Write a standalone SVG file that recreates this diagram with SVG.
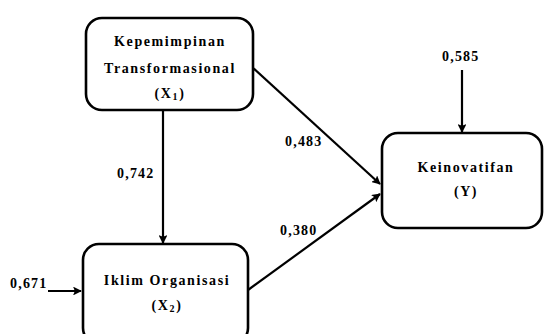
<svg xmlns="http://www.w3.org/2000/svg" width="545" height="334" viewBox="0 0 545 334">
<style>
.box{fill:#fff;stroke:#000;stroke-width:2.6}
.t{font-family:"Liberation Serif","Times New Roman",serif;font-weight:bold;font-size:14px;fill:#000;text-anchor:middle;letter-spacing:1.6px}
.l{font-family:"Liberation Serif","Times New Roman",serif;font-weight:bold;font-size:14px;fill:#000;letter-spacing:1.2px}
.c{stroke:#000;stroke-width:2.2;fill:none;marker-end:url(#ah)}
</style>
<defs>
<marker id="ah" viewBox="0 0 10 10" refX="9" refY="5" markerWidth="4" markerHeight="4" orient="auto" markerUnits="strokeWidth">
<path d="M0,0 L10,5 L0,10 L2,5 Z" fill="#000"/>
</marker>
</defs>
<g id="connectors">
<line class="c" x1="163" y1="110" x2="163" y2="243"/>
<line class="c" x1="252" y1="67" x2="380" y2="184"/>
<line class="c" x1="248" y1="290" x2="380" y2="194"/>
<line class="c" x1="462" y1="70" x2="462" y2="132"/>
<line class="c" x1="48" y1="291" x2="81" y2="291"/>
</g>
<g id="x1">
<rect class="box" x="86" y="18" width="167" height="92" rx="16"/>
<text class="t" x="170" y="46">Kepemimpinan</text>
<text class="t" x="170" y="73">Transformasional</text>
<text class="t" x="170" y="98">(X<tspan font-size="10" dy="2">1</tspan><tspan dy="-2">)</tspan></text>
</g>
<g id="x2">
<rect class="box" x="83" y="244" width="165" height="100" rx="16"/>
<text class="t" x="167" y="285">Iklim Organisasi</text>
<text class="t" x="167" y="310">(X<tspan font-size="10" dy="2">2</tspan><tspan dy="-2">)</tspan></text>
</g>
<g id="y">
<rect class="box" x="382" y="133" width="160" height="95" rx="16"/>
<text class="t" x="466" y="172">Keinovatifan</text>
<text class="t" x="466" y="196">(Y)</text>
</g>
<g id="labels">
<text class="l" x="117" y="178">0,742</text>
<text class="l" x="285" y="146">0,483</text>
<text class="l" x="280" y="235">0,380</text>
<text class="l" x="442" y="61">0,585</text>
<text class="l" x="10" y="288">0,671</text>
</g>
</svg>
